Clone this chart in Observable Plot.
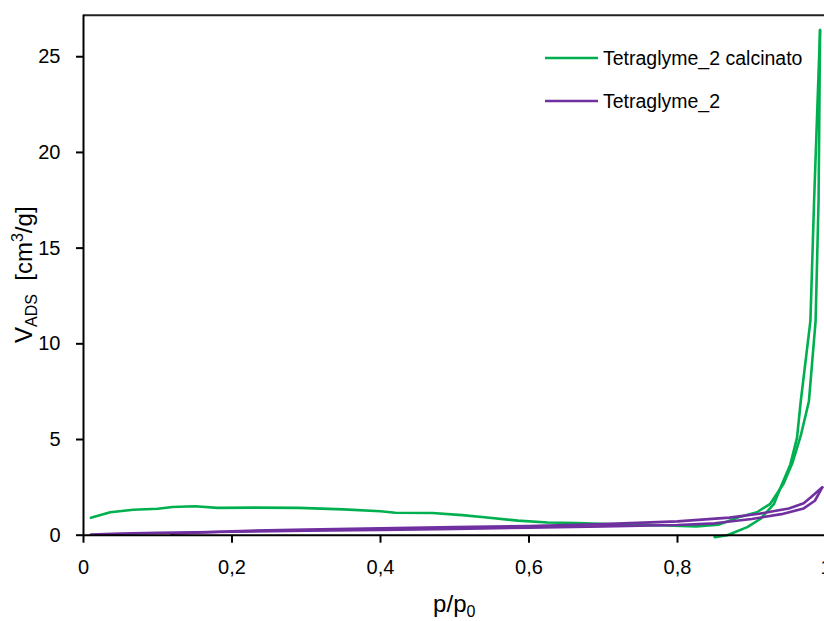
<!DOCTYPE html>
<html>
<head>
<meta charset="utf-8">
<script src="https://cdn.jsdelivr.net/npm/d3@7"></script>
<script src="https://cdn.jsdelivr.net/npm/@observablehq/plot@0.6"></script>
<style>
  html, body { margin: 0; padding: 0; background: #fff; overflow: hidden; }
  #chart { width: 824px; height: 621px; overflow: hidden; }
  #chart svg { max-width: none !important; }
</style>
</head>
<body>
<div id="chart"></div>
<script>
// Nitrogen isotherms: [p/p0, V_ADS (cm3/g)] for each branch
const seriesNames = ["Tetraglyme_2 calcinato", "Tetraglyme_2"];
const seriesColors = ["#00b050", "#7030a0"];

const calcinatoAds = [
  [0.01, 0.91], [0.036, 1.2], [0.067, 1.33], [0.10, 1.38], [0.12, 1.47],
  [0.15, 1.51], [0.18, 1.43], [0.23, 1.44], [0.29, 1.43], [0.35, 1.35],
  [0.40, 1.25], [0.42, 1.17], [0.47, 1.16], [0.51, 1.05], [0.54, 0.94],
  [0.585, 0.76], [0.625, 0.66], [0.665, 0.64], [0.705, 0.58], [0.74, 0.55],
  [0.785, 0.51], [0.825, 0.46], [0.855, 0.55], [0.885, 0.97], [0.907, 1.2],
  [0.925, 1.64], [0.943, 2.7], [0.955, 3.8], [0.966, 5.2], [0.977, 7.0],
  [0.986, 11.2], [0.990, 17.5], [0.992, 26.4]
];
const calcinatoDes = [
  [0.992, 26.4], [0.984, 17.5], [0.979, 11.2], [0.966, 7.0], [0.961, 5.1],
  [0.952, 3.7], [0.940, 2.6], [0.930, 1.64], [0.912, 0.86], [0.894, 0.42],
  [0.867, 0.0], [0.850, -0.1]
];
const tetraglymeAds = [
  [0.01, 0.03], [0.05, 0.08], [0.10, 0.12], [0.20, 0.18], [0.30, 0.23],
  [0.40, 0.28], [0.50, 0.33], [0.60, 0.39], [0.70, 0.46], [0.80, 0.53],
  [0.85, 0.62], [0.90, 0.85], [0.94, 1.1], [0.97, 1.4], [0.985, 1.8],
  [0.995, 2.5]
];
const tetraglymeDes = [
  [0.995, 2.5], [0.98, 2.0], [0.97, 1.67], [0.95, 1.4], [0.91, 1.12],
  [0.87, 0.92], [0.80, 0.72], [0.70, 0.58], [0.60, 0.48], [0.50, 0.42],
  [0.40, 0.36], [0.30, 0.30], [0.20, 0.21], [0.118, 0.08]
];

const xTicks = [0, 0.2, 0.4, 0.6, 0.8, 1];
const yTicks = [0, 5, 10, 15, 20, 25];
const yMax = 27.17;

const font = "'Liberation Sans', Arial, sans-serif";
const commaFormat = d => String(d).replace(".", ",");

const lineOpts = (color) => ({
  x: d => d[0], y: d => d[1], stroke: color, strokeWidth: 2.6,
  strokeLinejoin: "round", strokeLinecap: "round"
});

const plot = Plot.plot({
  width: 870,
  height: 621,
  marginLeft: 83,
  marginRight: 44.5,
  marginTop: 14.7,
  marginBottom: 86.3,
  style: { fontFamily: font, background: "#fff", overflow: "visible", maxWidth: "none" },
  x: { domain: [0, 1] },
  y: { domain: [0, yMax] },
  marks: [
    Plot.ruleY([yMax], { stroke: "#222", strokeWidth: 2 }),
    Plot.axisX({ ticks: xTicks, tickFormat: commaFormat, tickSize: 8, tickPadding: 17,
                 fontSize: 20, stroke: "#000", strokeWidth: 2, fill: "#000", label: null }),
    Plot.axisY({ ticks: yTicks, tickFormat: commaFormat, tickSize: 7, tickPadding: 16,
                 fontSize: 20, stroke: "#000", strokeWidth: 2, fill: "#000", label: null }),
    Plot.line(calcinatoAds, lineOpts(seriesColors[0])),
    Plot.line(calcinatoDes, lineOpts(seriesColors[0])),
    Plot.line(tetraglymeAds, lineOpts(seriesColors[1])),
    Plot.line(tetraglymeDes, lineOpts(seriesColors[1])),
    Plot.ruleX([0], { stroke: "#000", strokeWidth: 2 }),
    Plot.ruleY([0], { stroke: "#000", strokeWidth: 2 })
  ]
});

const svg = d3.select(plot);
const xs = plot.scale("x"), ys = plot.scale("y");
const xMid = (xs.range[0] + xs.range[1]) / 2;
const yMid = (ys.range[0] + ys.range[1]) / 2;

// x-axis title: p/p0
const xt = svg.append("text")
  .attr("x", xMid).attr("y", 612)
  .attr("text-anchor", "middle")
  .attr("font-family", font).attr("font-size", 24).attr("fill", "#000");
xt.append("tspan").text("p/p");
xt.append("tspan").attr("font-size", 16).attr("dy", 5).text("0");

// y-axis title: V_ADS [cm3/g]
const yt = svg.append("text")
  .attr("transform", `translate(31.5,${yMid}) rotate(-90)`)
  .attr("text-anchor", "middle")
  .attr("font-family", font).attr("font-size", 24).attr("fill", "#000");
yt.append("tspan").text("V");
yt.append("tspan").attr("font-size", 16).attr("dy", 5).text("ADS");
yt.append("tspan").attr("dy", -5).text("\u00a0 [cm");
yt.append("tspan").attr("font-size", 16).attr("dy", -9).text("3");
yt.append("tspan").attr("dy", 9).text("/g]");

// legend
const legend = svg.append("g")
  .attr("font-family", font).attr("font-size", 19.5).attr("text-anchor", "start");
const legendRows = [58, 101];
seriesNames.forEach((name, i) => {
  const y = legendRows[i];
  legend.append("line")
    .attr("x1", 545).attr("x2", 598).attr("y1", y).attr("y2", y)
    .attr("stroke", seriesColors[i]).attr("stroke-width", 2.6);
  legend.append("text")
    .attr("x", 603).attr("y", y).attr("dy", "0.35em")
    .attr("fill", "#000").text(name);
});

document.getElementById("chart").appendChild(plot);
</script>
</body>
</html>
